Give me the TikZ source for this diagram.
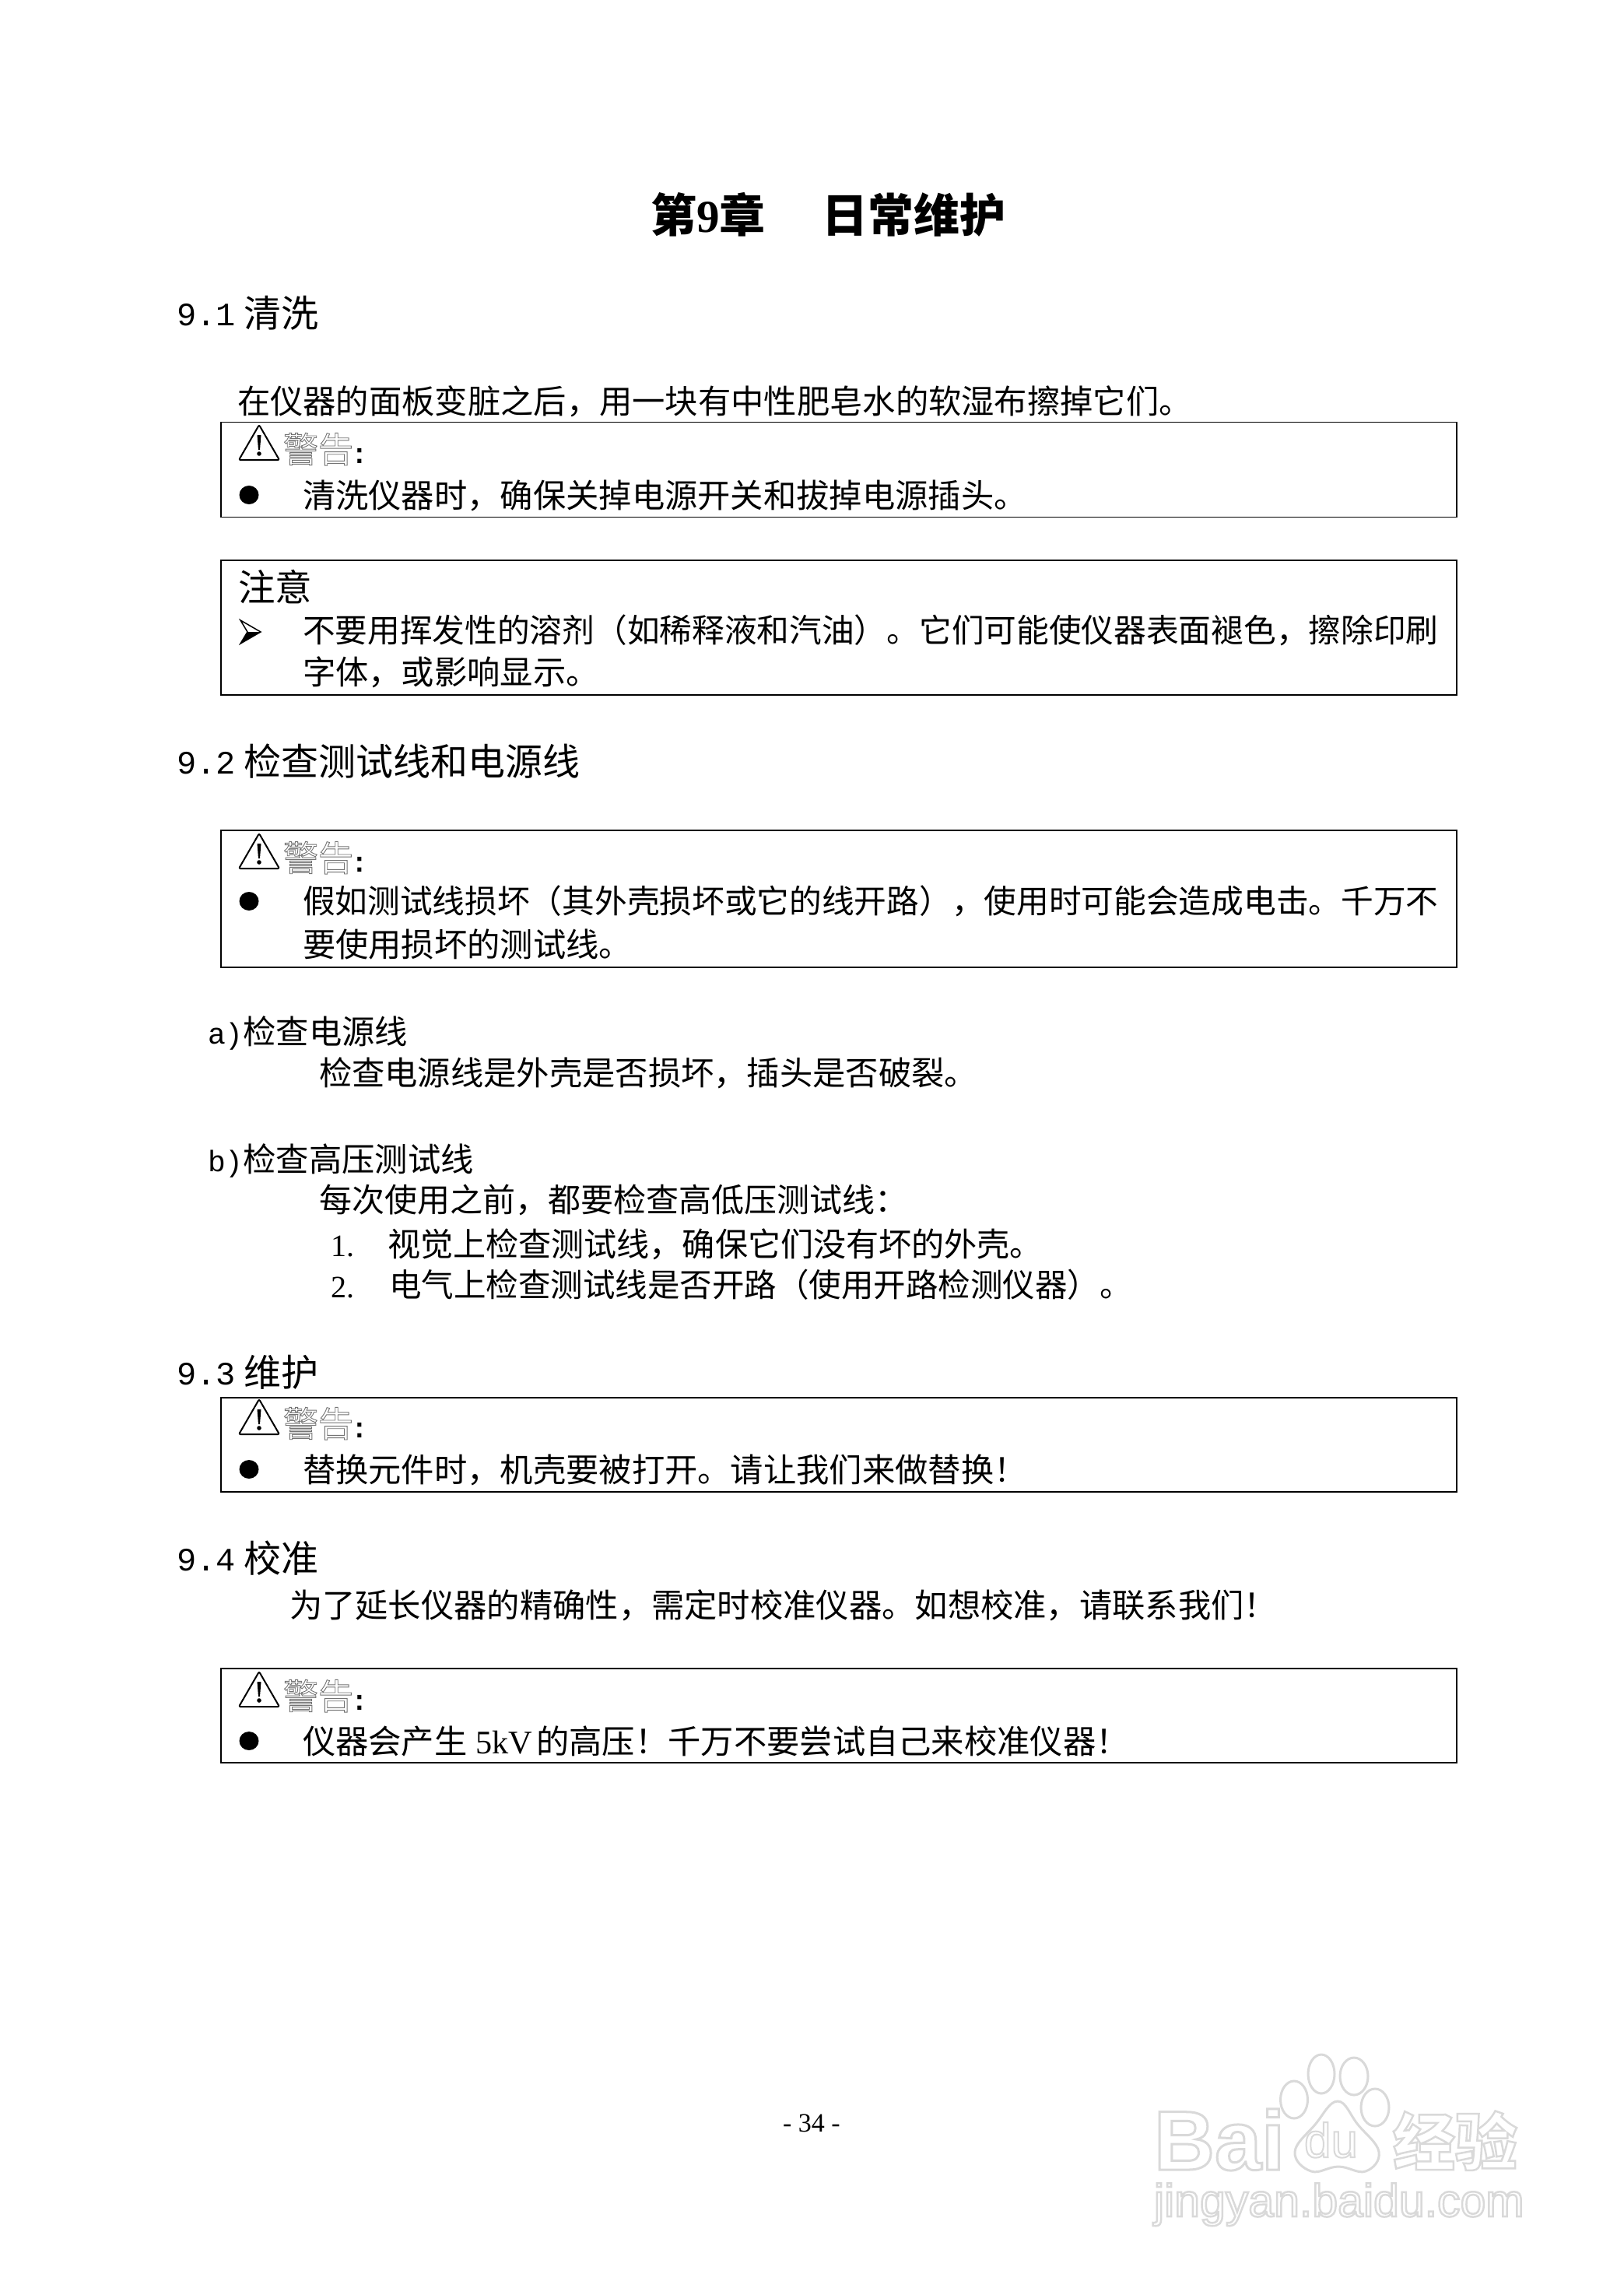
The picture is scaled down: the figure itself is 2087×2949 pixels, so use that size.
\documentclass[tikz,border=0pt]{standalone}
\usepackage{fontspec}
\setmainfont{Noto Sans CJK SC}
\newfontfamily\mono{Liberation Mono}
\newfontfamily\ser{Liberation Serif}
\newfontfamily\san{Liberation Sans}
\definecolor{wm}{gray}{0.85}
\definecolor{warnline}{gray}{0.45}
\newcommand\outl[2]{\special{pdf:code 1 Tr #1 w}#2\special{pdf:code 0 Tr 1 w}}
\newcommand\pline[5]{\node[textline,yshift={-0.38*#4 pt}] (#1) at (#2,#3) {\fontsize{#4}{#4}\selectfont #5};}
\newcommand\secnum[1]{\raisebox{2pt}{\mono\fontsize{42}{42}\selectfont #1}\hspace{11pt}}
\newcommand\warnhead[2]{%
  \coordinate (#1t) at (333,#2);
  \draw[tri] (333,#2) -- ++(-26,45) -- ++(52,0) -- cycle;
  \fill ([xshift=-2.5pt]333,{#2+13}) -- ([xshift=2.5pt]333,{#2+13}) -- (334,{#2+32}) -- (332,{#2+32}) -- cycle;
  \fill (333,{#2+37}) circle (2.8);
  \node[textline,yshift={-0.38*45 pt},text=warnline] (#1w) at (364,{#2+31}) {\fontsize{45}{45}\selectfont\outl{0.9}{警告}};
  \node[textline] (#1c) at (451,{#2+49}) {\fontsize{36}{36}\selectfont\mono\bfseries :};
}
\newcommand\dotbul[2]{\node[bulletdot] (#1) at (320,#2) {};}
\tikzset{
  x=1pt,y=-1pt,
  textline/.style={anchor=base west,inner sep=0pt,outer sep=0pt},
  panel/.style={draw=black,line width=1.8pt,fill=none},
  tri/.style={draw=black,line width=2pt,rounded corners=2pt,line join=round},
  bulletdot/.style={ellipse,fill=black,minimum width=25pt,minimum height=24pt,inner sep=0pt},
  wmline/.style={draw=wm,line width=3pt,fill=white},
}
\usetikzlibrary{shapes.geometric}
\begin{document}
\begin{tikzpicture}
\useasboundingbox (0,0) rectangle (2087,2949);
\fill[white] (0,0) rectangle (2087,2949);

% panels
\node[panel,anchor=north west,minimum width=1588pt,minimum height=122pt,inner sep=0pt] (box1) at (283,541.5) {};
\node[panel,anchor=north west,minimum width=1588pt,minimum height=173pt,inner sep=0pt] (box2) at (283,719) {};
\node[panel,anchor=north west,minimum width=1588pt,minimum height=176pt,inner sep=0pt] (box3) at (283,1066) {};
\node[panel,anchor=north west,minimum width=1588pt,minimum height=121pt,inner sep=0pt] (box4) at (283,1795) {};
\node[panel,anchor=north west,minimum width=1588pt,minimum height=121pt,inner sep=0pt] (box5) at (283,2143) {};

% title
\node[textline,yshift={-0.38*59 pt}] (title) at (836,276) {\fontsize{59}{59}\selectfont\bfseries 第{\ser 9}章\hspace{73pt}日常维护};

% 9.1
\pline{h1}{227}{402}{48}{\secnum{9.1}清洗}
\pline{t1}{305}{515}{42.3}{在仪器的面板变脏之后，用一块有中性肥皂水的软湿布擦掉它们。}
\warnhead{wa}{546}
\dotbul{b1}{636}
\pline{t2}{389}{636}{42.3}{清洗仪器时，确保关掉电源开关和拔掉电源插头。}

\pline{n1}{306}{754}{47.5}{注意}
\draw[line width=1.5pt,line join=miter] (309,797) -- (335,812) -- (309,827) -- (318,812) -- cycle;
\fill (335,812) -- (309,827) -- (318,812) -- cycle;
\pline{t3}{389}{810}{41.7}{不要用挥发性的溶剂（如稀释液和汽油）。它们可能使仪器表面褪色，擦除印刷}
\pline{t4}{389}{863}{42.3}{字体，或影响显示。}

% 9.2
\pline{h2}{227}{978}{48}{\secnum{9.2}检查测试线和电源线}
\warnhead{wb}{1071}
\dotbul{b2}{1158}
\pline{t5}{389}{1158}{41.7}{假如测试线损坏（其外壳损坏或它的线开路），使用时可能会造成电击。千万不}
\pline{t6}{389}{1213}{42.3}{要使用损坏的测试线。}

\pline{a1}{267}{1325}{42.3}{{\mono\fontsize{38}{38}\selectfont a)}检查电源线}
\pline{t7}{410}{1378}{42.3}{检查电源线是外壳是否损坏，插头是否破裂。}
\pline{a2}{267}{1489}{42.3}{{\mono\fontsize{38}{38}\selectfont b)}检查高压测试线}
\pline{t8}{410}{1542}{42}{每次使用之前，都要检查高低压测试线：}
\pline{n3}{425}{1598}{42.3}{{\ser\fontsize{40}{40}\selectfont 1.}}
\pline{t9}{498}{1598}{42.1}{视觉上检查测试线，确保它们没有坏的外壳。}
\pline{n4}{425}{1651}{42.3}{{\ser\fontsize{40}{40}\selectfont 2.}}
\pline{t10}{500}{1651}{41.5}{电气上检查测试线是否开路（使用开路检测仪器）。}

% 9.3
\pline{h3}{227}{1763}{48}{\secnum{9.3}维护}
\warnhead{wc}{1798}
\dotbul{b3}{1888}
\pline{t11}{389}{1888}{42.3}{替换元件时，机壳要被打开。请让我们来做替换！}

% 9.4
\pline{h4}{227}{2002}{48}{\secnum{9.4}校准}
\pline{t12}{372}{2062}{42.3}{为了延长仪器的精确性，需定时校准仪器。如想校准，请联系我们！}
\warnhead{wd}{2148}
\dotbul{b4}{2237}
\pline{t13}{389}{2237}{42.3}{仪器会产生{\ser\hspace{11pt}5kV\hspace{5pt}}的高压！千万不要尝试自己来校准仪器！}

% page number
\node[textline,yshift=-11pt] (pg) at (1006,2728) {\fontsize{34}{34}\selectfont\ser - 34 -};

% watermark
\begin{scope}
\draw[wmline] (1663,2698) ellipse (17.5 and 24);
\draw[wmline] (1698,2665) ellipse (17 and 25);
\draw[wmline] (1740,2668) ellipse (18 and 24);
\draw[wmline] (1767,2708) ellipse (18 and 24);
\draw[wmline] plot[smooth cycle,tension=0.7] coordinates {(1719,2700) (1745,2730) (1772,2765) (1755,2790) (1720,2784) (1685,2790) (1664,2765) (1690,2730)};
\node[textline,text=wm] (wmbai) at (1483,2788) {\fontsize{108}{108}\selectfont\san\bfseries\outl{3}{Bai}};
\node[textline,text=wm] (wmdu) at (1676,2772) {\fontsize{62}{62}\selectfont\san\outl{2}{du}};
\node[textline,text=wm] (wmjy) at (1790,2782) {\fontsize{80}{80}\selectfont\bfseries\outl{2.5}{经验}};
\node[textline,text=wm] (wmurl) at (1483,2848) {\fontsize{59}{59}\selectfont\san\outl{2.5}{jingyan.baidu.com}};
\end{scope}
\end{tikzpicture}
\end{document}
